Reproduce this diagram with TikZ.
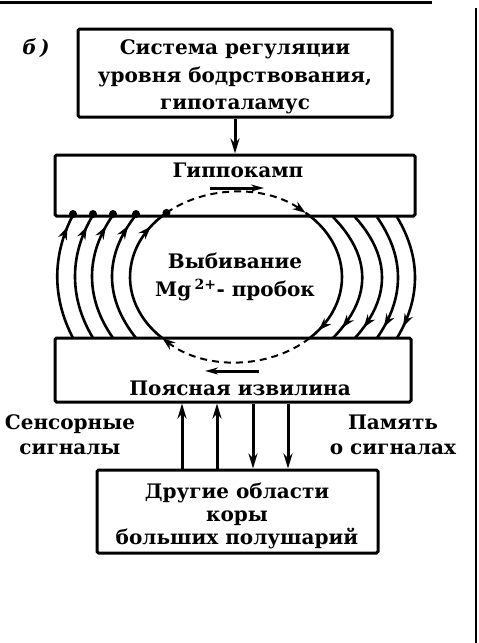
\documentclass[tikz,border=0pt]{standalone}
\usepackage{fontspec}
\setmainfont{DejaVu Serif}
\usetikzlibrary{positioning, arrows.meta, decorations.markings}

\tikzset{
  panel/.style={draw, line width=3pt, inner sep=0pt, rounded corners=1.5pt},
  lbl/.style={font=\fontsize{20}{25}\selectfont\bfseries, align=center, inner sep=0pt},
  fiber/.style={line width=2.6pt},
  tipat/.style={postaction={decorate}, decoration={markings,
      mark=at position #1 with {\arrow{Stealth[length=13pt,width=9pt]}}}},
  pulse/.style={line width=2pt, dash pattern=on 7pt off 5pt, -{Stealth[length=13pt,width=9pt]}},
  feed/.style={line width=3pt, -{Stealth[length=15pt,width=9pt]}},
  drift/.style={line width=3pt, -{Stealth[length=13pt,width=7pt]}},
  synapse/.style={circle, fill, inner sep=0pt, minimum size=8pt},
}

\begin{document}
\begin{tikzpicture}[x=1pt, y=-1pt]
  \useasboundingbox (0,0) rectangle (479,643);

  % ── scan frame ──
  \draw[line width=3pt] (0,2) -- (432,2);
  \draw[line width=2.6pt] (476,8) -- (476,643);

  % ── Boxes ──
  \node[lbl] (tag) at (36,48) {\itshape б\,)};
  \node[panel, minimum width=314pt, minimum height=88pt] (sys) at (235,73) {};
  \node[lbl, font=\fontsize{20}{27.5}\selectfont\bfseries] (systxt) at (235,77)
    {Система регуляции\\уровня бодрствования,\\гипоталамус};
  \node[panel, minimum width=360pt, minimum height=61pt] (hip) at (235,185.5) {};
  \node[lbl] (hiptxt) at (238,170) {Гиппокамп};
  \node[panel, minimum width=356pt, minimum height=64pt] (cing) at (233,370) {};
  \node[lbl] (cingtxt) at (240,388) {Поясная извилина};
  \node[panel, minimum width=281pt, minimum height=83pt] (ctx) at (237.5,511.5) {};
  \node[lbl, font=\fontsize{20}{23}\selectfont\bfseries] (ctxtxt) at (237,516)
    {Другие области\\коры\\больших полушарий};

  % ── Labels ──
  \node[lbl, font=\fontsize{20}{28}\selectfont\bfseries] (core) at (235,277)
    {Выбивание\\Mg\,\textsuperscript{2+}- пробок};
  \node[lbl] (sens) at (70,435) {Сенсорные\\сигналы};
  \node[lbl] (mem) at (393,435) {Память\\о сигналах};

  % ── Inner arrows ──
  \coordinate (hipA) at (210,188);
  \coordinate (hipB) at (264,188);
  \draw[drift] (hipA) -- (hipB);
  \coordinate (cingA) at (259,371);
  \coordinate (cingB) at (205,371);
  \draw[drift] (cingA) -- (cingB);

  \draw[feed] (sys) -- (hip);

  % ── Central loop ──
  \coordinate (eye) at (236,277);
  \path (eye) ++(134:106 and 85) coordinate (ebl);
  \path (eye) ++(229:106 and 85) coordinate (etl);
  \path (eye) ++(311:106 and 85) coordinate (etr);
  \path (eye) ++(46:106 and 85) coordinate (ebr);
  \draw[fiber, tipat=0.86] (ebl) arc[start angle=134, end angle=229, x radius=106, y radius=85];
  \draw[pulse] (etl) arc[start angle=229, end angle=311, x radius=106, y radius=85];
  \draw[fiber, tipat=0.92] (etr) arc[start angle=311, end angle=406, x radius=106, y radius=85];
  \draw[pulse] (ebr) arc[start angle=46, end angle=134, x radius=106, y radius=85];
  \node[synapse] (syn5) at (etl) {};

  % ── Left fibres (up) ──
  \foreach \n/\x/\d in {1/73/21, 2/93/24, 3/113/28, 4/136/32} {
    \coordinate (lb\n) at (\x,338);
    \coordinate (lt\n) at (\x,215);
    \draw[fiber, tipat=0.9] (lb\n) .. controls +(-\d,-40) and +(-\d,40) .. (lt\n);
    \node[synapse] (syn\n) at (\x,214) {};
  }

  % ── Right fibres (down) ──
  \foreach \n/\x/\d in {1/333/39, 2/355/36, 3/377/28, 4/397/24} {
    \coordinate (rt\n) at (\x,217);
    \coordinate (rb\n) at (\x,338);
    \draw[fiber, tipat=0.9] (rt\n) .. controls +(\d,40) and +(\d,-40) .. (rb\n);
  }

  % ── Links to cortex ──
  \foreach \n/\x in {1/182, 2/217} {
    \coordinate (up\n) at (\x,0);
    \draw[feed] (up\n |- ctx.north) -- (up\n |- cing.south);
  }
  \foreach \n/\x in {3/253, 4/288} {
    \coordinate (dn\n) at (\x,0);
    \draw[feed] (dn\n |- cing.south) -- (dn\n |- ctx.north);
  }
\end{tikzpicture}
\end{document}
